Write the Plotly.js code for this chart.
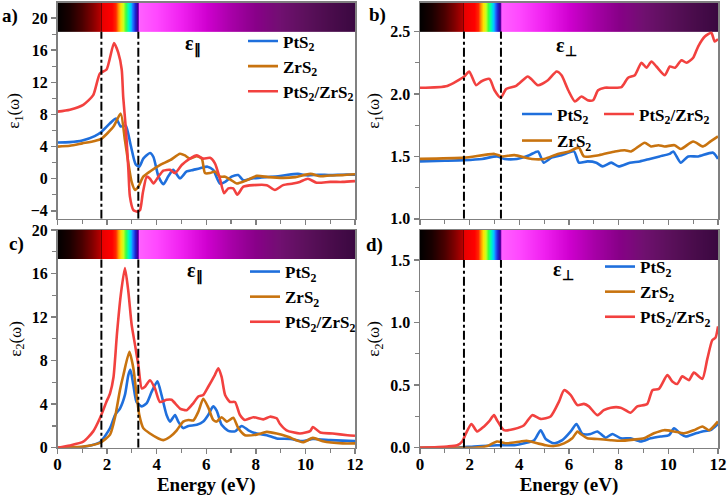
<!DOCTYPE html>
<html>
<head>
<meta charset="utf-8">
<script src="https://cdn.plot.ly/plotly-3.0.1.min.js"></script>
<style>
html,body{margin:0;padding:0;background:#fff;}
#chart{width:728px;height:503px;}
</style>
</head>
<body>
<div id="chart"></div>
<script>
// ---------- DATA ----------
// (a) ε1, parallel
const a_PtS2_E = [0,0.5,1.0,1.5,1.78,2.12,2.36,2.55,2.75,2.95,3.15,3.3,3.46,3.73,3.87,4.07,4.27,4.47,4.67,4.94,5.21,5.48,5.75,6.05,6.28,6.55,6.76,7.02,7.29,7.5,7.9,8.4,8.9,9.3,9.7,10.1,10.5,11.0,11.5,12.0];
const a_PtS2   = [4.5,4.55,4.75,5.3,5.85,6.9,7.5,6.5,6.6,4.2,1.8,1.5,2.5,3.2,2.7,0.3,-0.7,0.3,1.1,0.05,0.9,1.1,1.3,1.5,1.1,-0.6,-0.4,0.25,0.45,-0.2,0.05,0.2,0.3,0.5,0.6,0.4,0.5,0.45,0.5,0.5];
const a_ZrS2_E = [0,0.5,1.0,1.5,1.78,2.26,2.55,2.72,2.86,2.99,3.13,3.26,3.46,3.73,4.13,4.54,4.94,5.14,5.34,5.62,5.82,5.95,6.15,6.35,6.55,6.76,7.02,7.23,7.63,8.04,8.5,9.1,9.6,10.2,10.6,11.0,11.5,12.0];
const a_ZrS2   = [4.0,4.1,4.4,4.7,5.0,6.5,8.1,4.8,1.9,-0.4,-1.4,-1.0,0.25,0.9,1.7,2.3,3.1,2.9,2.5,2.8,2.5,0.7,0.7,0.9,0.25,0.25,-0.2,-0.6,-0.2,0.35,0.2,0.1,0.2,0.6,0.3,0.4,0.45,0.55];
const a_Het_E  = [0,0.5,1.04,1.44,1.71,1.98,2.28,2.45,2.59,2.65,2.76,2.86,2.92,3.06,3.22,3.33,3.44,3.6,3.73,3.87,4.07,4.27,4.54,4.74,5.01,5.34,5.62,5.88,6.15,6.35,6.55,6.72,6.89,7.09,7.25,7.5,7.9,8.44,8.77,9.1,9.5,9.77,10.1,10.45,11.0,11.5,12.0];
const a_Het    = [8.35,8.6,9.2,10.4,13.1,13.6,16.9,15.7,13.6,10.2,6.1,1.1,-2.2,-3.9,-4.1,-3.9,-1.8,0.25,0.0,-0.6,0.25,1.0,1.1,0.7,1.7,2.5,2.9,2.5,2.6,1.9,0.0,-1.8,-1.2,-1.2,-2.0,-1.0,-0.8,-0.8,-1.4,-0.8,-0.6,-0.4,0.0,-0.5,-0.4,-0.4,-0.3];

// (b) ε1, perpendicular
const b_PtS2_E = [0,1.0,1.78,2.5,3.1,3.4,3.9,4.4,4.75,4.98,5.3,5.7,6.2,6.4,6.75,7.1,7.35,7.7,8.0,8.45,8.85,9.25,9.65,10.05,10.2,10.5,10.8,11.2,11.8,12.0];
const b_PtS2   = [1.46,1.465,1.47,1.48,1.50,1.48,1.48,1.51,1.54,1.45,1.49,1.51,1.54,1.45,1.46,1.45,1.42,1.45,1.42,1.45,1.46,1.48,1.50,1.52,1.54,1.45,1.50,1.50,1.53,1.48];
const b_ZrS2_E = [0,1.78,3.0,3.3,3.8,4.5,5.0,5.55,6.0,6.4,6.6,7.2,7.85,8.25,8.5,9.05,9.3,9.6,9.85,10.25,10.5,11.0,11.4,11.7,12.0];
const b_ZrS2   = [1.48,1.49,1.52,1.50,1.51,1.48,1.48,1.52,1.54,1.57,1.50,1.51,1.54,1.55,1.54,1.61,1.58,1.59,1.58,1.59,1.56,1.62,1.58,1.62,1.66];
const b_Het_E  = [0,1.1,1.78,1.98,2.26,2.46,2.8,3.0,3.25,3.47,3.87,4.34,4.48,4.75,5.15,5.5,5.7,5.97,6.24,6.5,6.75,6.97,7.17,7.44,7.71,8.11,8.38,8.65,8.92,9.12,9.32,9.52,9.86,10.06,10.27,10.53,10.73,11.0,11.2,11.47,11.73,11.87,12.0];
const b_Het    = [2.05,2.065,2.14,2.18,2.07,2.10,2.12,2.03,1.97,2.04,2.065,2.14,2.12,2.07,2.11,2.18,2.15,2.03,1.94,1.98,1.95,1.95,2.03,2.05,2.05,2.055,2.13,2.15,2.25,2.21,2.26,2.22,2.15,2.22,2.21,2.27,2.25,2.29,2.38,2.46,2.49,2.42,2.44];

// (c) ε2, parallel
const c_PtS2_E = [0,1.0,1.71,2.12,2.32,2.52,2.72,2.86,2.94,3.06,3.19,3.4,3.6,3.8,4.03,4.2,4.4,4.54,4.74,4.87,5.07,5.28,5.62,5.88,6.08,6.28,6.42,6.62,6.89,7.16,7.43,7.7,8.03,8.44,8.84,9.4,9.9,10.3,11.0,11.5,12.0];
const c_PtS2   = [0,0.05,0.5,1.8,3.0,3.6,4.85,6.7,7.15,5.75,4.2,3.8,4.1,5.15,6.1,4.8,3.0,2.4,3.0,2.4,1.8,2.0,2.1,2.4,3.0,3.8,3.4,2.1,1.55,1.5,2.0,1.6,1.3,1.15,0.85,0.8,0.6,0.8,0.7,0.65,0.6];
const c_ZrS2_E = [0,1.04,1.71,2.12,2.32,2.52,2.66,2.9,3.06,3.19,3.3,3.46,3.73,4.07,4.27,4.54,4.81,5.07,5.28,5.48,5.68,5.88,6.08,6.28,6.42,6.62,6.83,7.09,7.29,7.56,8.03,8.44,8.84,9.3,9.9,10.3,10.7,11.5,12.0];
const c_ZrS2   = [0,0.1,0.45,1.2,2.8,5.3,6.7,8.8,7.3,4.85,3.0,1.8,1.3,0.85,0.7,1.0,1.6,2.4,2.55,2.5,3.3,4.5,3.7,2.55,2.4,2.8,2.4,2.75,1.8,1.15,1.2,1.45,1.3,1.0,0.5,0.9,0.6,0.4,0.4];
const c_Het_E  = [0,0.5,1.04,1.44,1.71,1.97,2.12,2.26,2.4,2.55,2.72,2.86,2.99,3.13,3.26,3.4,3.53,3.73,3.93,4.13,4.4,4.6,4.94,5.21,5.48,5.68,5.88,6.08,6.35,6.49,6.62,6.76,6.96,7.16,7.36,7.56,7.9,8.3,8.57,8.84,8.97,9.24,9.78,10.2,10.3,10.6,11.1,11.7,12.0];
const c_Het    = [0,0.2,0.55,1.5,2.7,4.2,5.0,6.5,10.5,14.0,16.5,14.3,11.3,9.4,7.6,5.45,5.6,6.2,5.45,4.2,4.4,4.4,3.6,3.45,4.1,4.7,4.85,5.6,6.7,7.3,6.5,4.85,4.2,4.2,3.0,2.55,2.8,2.6,2.85,2.7,2.2,1.6,1.3,1.55,1.9,1.4,1.3,1.15,1.1];

// (d) ε2, perpendicular
const d_PtS2_E = [0,1.5,2.17,3.1,3.8,4.2,4.6,4.86,5.06,5.4,5.73,6.07,6.3,6.54,6.87,7.14,7.48,7.75,8.08,8.48,8.89,9.29,9.69,10.03,10.23,10.5,10.7,11.03,11.37,11.7,12.0];
const d_PtS2   = [0,0,0.01,0.02,0.02,0.035,0.06,0.14,0.07,0.035,0.06,0.13,0.19,0.11,0.11,0.13,0.08,0.11,0.075,0.075,0.05,0.075,0.09,0.1,0.155,0.11,0.09,0.11,0.13,0.14,0.19];
const d_ZrS2_E = [0,2.17,2.71,3.1,3.5,4.05,4.3,4.72,5.06,5.4,5.8,6.13,6.34,6.47,6.74,7.14,7.68,8.08,8.62,9.02,9.42,9.83,10.23,10.63,11.03,11.37,11.64,12.0];
const d_ZrS2   = [0,0,0.013,0.05,0.035,0.05,0.055,0.035,0.02,0.013,0.035,0.075,0.13,0.11,0.075,0.07,0.06,0.055,0.065,0.075,0.115,0.14,0.13,0.115,0.14,0.17,0.14,0.21];
const d_Het_E  = [0,1.1,1.5,1.7,1.84,2.07,2.3,2.58,2.78,2.98,3.1,3.38,3.79,4.19,4.52,4.86,5.26,5.6,5.8,6.07,6.34,6.6,6.8,7.14,7.4,7.68,8.08,8.48,8.75,9.15,9.36,9.62,9.96,10.16,10.36,10.56,10.83,11.03,11.37,11.57,11.77,11.9,12.0];
const d_Het    = [0,0.01,0.02,0.05,0.11,0.19,0.13,0.17,0.21,0.26,0.22,0.14,0.15,0.18,0.26,0.23,0.25,0.37,0.46,0.42,0.34,0.35,0.33,0.26,0.3,0.32,0.32,0.28,0.33,0.35,0.46,0.47,0.58,0.53,0.51,0.57,0.54,0.6,0.55,0.71,0.86,0.88,0.97];

// series names and colours
const seriesNames  = ['PtS<sub>2</sub>', 'ZrS<sub>2</sub>', 'PtS<sub>2</sub>/ZrS<sub>2</sub>'];
const seriesColors = ['#1f6fdc', '#c8730f', '#f2413f'];

// spectrum strip (energy stops in eV and colours)
const specE      = [0,0.5,1.0,1.4,1.74,1.76,1.79,2.2,2.35,2.45,2.55,2.65,2.75,2.85,2.95,3.05,3.15,3.24,3.27,3.3,4.0,5.0,6.0,7.0,8.0,9.0,10.0,11.0,12.0];
const specColors = ['#000000','#1a0000','#4a0000','#800000','#b80000','#400000','#e80000','#ff0000','#ff2800','#ff9000','#ffe000','#c8ff20','#40ff40','#00ffb0','#00c8ff','#2070ff','#2020d0','#3a0090','#8000c0','#ff60ff','#ff48ff','#f020f0','#d000d0','#a800a8','#880088','#701070','#5c105c','#4a0c4c','#3a0840'];
// visible-light edges (eV)
const visEdges = [1.77, 3.26];

// axis ranges and strip bounds
const aRange = [-5, 21.9], aStrip = [18.3, 21.9];
const bRange = [1.0, 2.73], bStrip = [2.5, 2.73];
const cRange = [0, 20],     cStrip = [17.3, 20];
const dRange = [0, 1.74],   dStrip = [1.5, 1.74];

// ---------- BUILD ----------
const SERIF = 'Liberation Serif, Times New Roman, serif';
const colorscale = specE.map((e, i) => [e / 12, specColors[i]]);
const stripEdges = [];
for (let i = 0; i <= 600; i++) stripEdges.push(i * 0.02);
const stripZ = stripEdges.slice(0, 600).map(e => e + 0.01);

function strip(xa, ya, yb) {
  return {type: 'heatmap', x: stripEdges, y: yb, z: [stripZ], zmin: 0, zmax: 12,
    colorscale: colorscale, showscale: false, hoverinfo: 'skip', showlegend: false,
    xaxis: xa, yaxis: ya};
}
function line(xa, ya, E, v, k, leg) {
  return {type: 'scatter', mode: 'lines', x: E, y: v, name: seriesNames[k],
    line: {color: seriesColors[k], width: 2.6, shape: 'spline', smoothing: 0.6},
    xaxis: xa, yaxis: ya, legend: leg};
}

const traces = [
  strip('x', 'y', aStrip), strip('x2', 'y2', bStrip), strip('x3', 'y3', cStrip), strip('x4', 'y4', dStrip),
  line('x', 'y', a_PtS2_E, a_PtS2, 0, 'legend'),
  line('x', 'y', a_ZrS2_E, a_ZrS2, 1, 'legend'),
  line('x', 'y', a_Het_E, a_Het, 2, 'legend'),
  line('x2', 'y2', b_PtS2_E, b_PtS2, 0, 'legend2'),
  line('x2', 'y2', b_ZrS2_E, b_ZrS2, 1, 'legend5'),
  line('x2', 'y2', b_Het_E, b_Het, 2, 'legend6'),
  line('x3', 'y3', c_PtS2_E, c_PtS2, 0, 'legend3'),
  line('x3', 'y3', c_ZrS2_E, c_ZrS2, 1, 'legend3'),
  line('x3', 'y3', c_Het_E, c_Het, 2, 'legend3'),
  line('x4', 'y4', d_PtS2_E, d_PtS2, 0, 'legend4'),
  line('x4', 'y4', d_ZrS2_E, d_ZrS2, 1, 'legend4'),
  line('x4', 'y4', d_Het_E, d_Het, 2, 'legend4')
];

const W = 728, H = 503;
const px = v => v / W, py = v => 1 - v / H;
const AX = '#808080';
const tickFont = {family: SERIF, size: 16, color: '#000', weight: 'bold'};

function xax(dom, anchor, labels) {
  const o = {domain: dom, anchor: anchor, range: [0, 12], dtick: 2, tick0: 0,
    showline: true, linecolor: AX, linewidth: 1.5, mirror: true,
    ticks: 'outside', ticklen: 5, tickwidth: 1.5, tickcolor: AX,
    minor: {dtick: 1, ticks: 'outside', ticklen: 4, tickwidth: 1.2, tickcolor: AX},
    showgrid: false, zeroline: false, showticklabels: labels, tickfont: {...tickFont, size: 17},
    ticklabelstandoff: -5};
  if (labels) o.title = {text: 'Energy (eV)', font: {family: SERIF, size: 19, color: '#000', weight: 'bold'}, standoff: 0};
  return o;
}
function yax(dom, anchor, range, dtick, minor, title, fmt) {
  return {domain: dom, anchor: anchor, range: range, dtick: dtick, tick0: 0,
    showline: true, linecolor: AX, linewidth: 1.5, mirror: true,
    ticks: 'outside', ticklen: 5, tickwidth: 1.5, tickcolor: AX,
    minor: {dtick: minor, ticks: 'outside', ticklen: 4, tickwidth: 1.2, tickcolor: AX},
    showgrid: false, zeroline: false, tickfont: tickFont, tickformat: fmt,
    title: {text: title, font: {family: SERIF, size: 17, color: '#000'}, standoff: 6}};
}

const xL = [px(57.5), px(355)], xR = [px(420), px(718)];
const yT = [py(218.85), py(2.85)], yB = [py(447.7), py(230)];

const shapes = [];
[['x', 'y', aRange, aStrip], ['x2', 'y2', bRange, bStrip], ['x3', 'y3', cRange, cStrip], ['x4', 'y4', dRange, dStrip]].forEach(p => {
  visEdges.forEach(e => shapes.push({type: 'line', xref: p[0], yref: p[1], x0: e, x1: e, y0: p[2][0], y1: p[3][0],
    line: {color: '#000', width: 2, dash: 'dashdot'}, layer: 'above'}));
});

const legFont = {family: SERIF, size: 17, color: '#000', weight: 'bold'};
const legBase = {font: legFont, bgcolor: 'rgba(0,0,0,0)', xanchor: 'left', yanchor: 'top', tracegroupgap: 0, itemwidth: 30};

const ann = [];
[['a)', 10, 16], ['b)', 377, 15], ['c)', 16, 244], ['d)', 375, 245]].forEach(a => ann.push({
  text: a[0], xref: 'paper', yref: 'paper', x: px(a[1]), y: py(a[2]), xanchor: 'center', yanchor: 'middle', showarrow: false,
  font: {family: SERIF, size: 19, color: '#000', weight: 'bold'}}));
[['ε<sub>∥</sub>', 193, 45], ['ε<sub>⊥</sub>', 566, 46], ['ε<sub>∥</sub>', 195, 272], ['ε<sub>⊥</sub>', 563, 270]].forEach(a => ann.push({
  text: a[0], xref: 'paper', yref: 'paper', x: px(a[1]), y: py(a[2]), xanchor: 'center', yanchor: 'middle', showarrow: false,
  font: {family: SERIF, size: 20, color: '#000', weight: 'bold'}}));

const layout = {
  width: W, height: H, margin: {l: 0, r: 0, t: 0, b: 0, autoexpand: false},
  paper_bgcolor: '#fff', plot_bgcolor: '#fff',
  xaxis: xax(xL, 'y', false), yaxis: yax(yT, 'x', aRange, 4, 2, 'ε<sub>1</sub>(ω)'),
  xaxis2: xax(xR, 'y2', false), yaxis2: yax(yT, 'x2', bRange, 0.5, 0.25, 'ε<sub>1</sub>(ω)', '.1f'),
  xaxis3: xax(xL, 'y3', true), yaxis3: yax(yB, 'x3', cRange, 4, 2, 'ε<sub>2</sub>(ω)'),
  xaxis4: xax(xR, 'y4', true), yaxis4: yax(yB, 'x4', dRange, 0.5, 0.25, 'ε<sub>2</sub>(ω)', '.1f'),
  legend:  {...legBase, x: px(243), y: py(23.5)},
  legend2: {...legBase, x: px(517), y: py(96.5)},
  legend6: {...legBase, x: px(599), y: py(96.5)},
  legend5: {...legBase, x: px(517), y: py(123)},
  legend3: {...legBase, x: px(245), y: py(254)},
  legend4: {...legBase, x: px(600), y: py(249)},
  shapes: shapes, annotations: ann, showlegend: true
};

Plotly.newPlot('chart', traces, layout, {displayModeBar: false, staticPlot: true});
</script>
</body>
</html>
